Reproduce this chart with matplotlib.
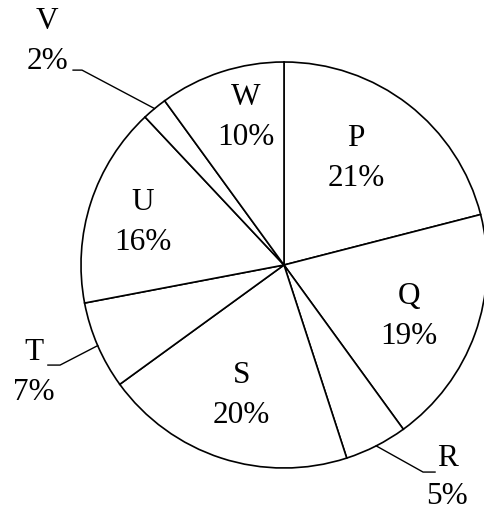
import numpy as np
import matplotlib
matplotlib.use("Agg")
import matplotlib.pyplot as plt

names = ["P", "Q", "R", "S", "T", "U", "V", "W"]
shares = [21, 19, 5, 20, 7, 16, 2, 10]

# labels drawn inside the slice: (fraction of radius, angle nudge in degrees)
inside_pos = {"P": (0.635, 3.8), "Q": (0.665, -2.4), "S": (0.678, 0.0),
              "U": (0.725, 1.4), "W": (0.748, -3.5)}
# small slices get an outside label with a leader line:
# elbow point, end of the short horizontal tail, label centre
outside_pos = {
    "V": ((-0.995, 0.96), (-1.039, 0.96), (-1.167, 1.103)),
    "T": ((-1.103, -0.493), (-1.163, -0.493), (-1.232, -0.532)),
    "R": ((0.685, -1.020), (0.744, -1.020), (0.803, -1.045)),
}

plt.rcParams["font.family"] = ["Liberation Serif", "DejaVu Serif"]

fig = plt.figure(figsize=(4.84, 5.13), dpi=100)
ax = fig.add_axes([81 / 484, 45 / 513, 406 / 484, 406 / 513])

wedges, _ = ax.pie(shares, startangle=90, counterclock=False,
                   colors=["white"] * len(shares),
                   wedgeprops=dict(edgecolor="black", linewidth=1.2))
ax.set_xlim(-1, 1)
ax.set_ylim(-1, 1)
ax.set_aspect("equal")
ax.axis("off")

fs = 22.5
ls = 1.5
for w, n, v in zip(wedges, names, shares):
    mid = (w.theta1 + w.theta2) / 2
    label = f"{n}\n{v}%"
    if n in inside_pos:
        r, nudge = inside_pos[n]
        a = np.deg2rad(mid + nudge)
        ax.text(r * np.cos(a), r * np.sin(a), label, ha="center",
                va="center", fontsize=fs, linespacing=ls)
    else:
        a = np.deg2rad(mid)
        (ex, ey), (tx, ty), (lx, ly) = outside_pos[n]
        ax.plot([np.cos(a), ex, tx], [np.sin(a), ey, ty], color="black",
                lw=1.0, clip_on=False)
        ax.text(lx, ly, label, ha="center", va="center", fontsize=fs,
                linespacing=1.4 if n == "R" else ls, clip_on=False)

fig.savefig("out.png", dpi=100, facecolor="white")
